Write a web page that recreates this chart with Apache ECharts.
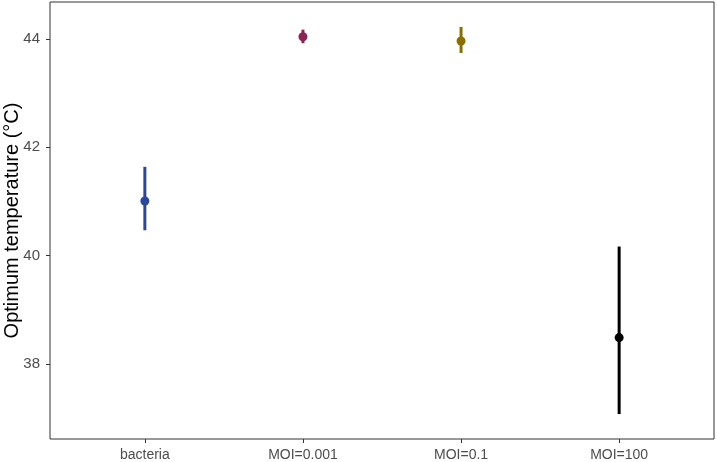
<!DOCTYPE html>
<html><head><meta charset="utf-8">
<script src="https://cdn.jsdelivr.net/npm/echarts@6/dist/echarts.min.js"></script>
<style>html,body{margin:0;padding:0;background:#fff}#c{width:717px;height:462px}</style>
</head><body><div id="c"></div>
<script>
const categories = ['bacteria', 'MOI=0.001', 'MOI=0.1', 'MOI=100'];
const means = [41.01, 44.04, 43.96, 38.49];
const lower = [40.47, 43.92, 43.74, 37.08];
const upper = [41.64, 44.17, 44.22, 40.17];
const yTicks = [38, 40, 42, 44];
const colors = ['#2b479c', '#8a2452', '#8c6d00', '#000000'];

const chart = echarts.init(document.getElementById('c'));
const series = [];
categories.forEach((cat, i) => {
  series.push({
    type: 'custom',
    name: cat + ' err',
    data: [[i + 1, lower[i], upper[i]]],
    renderItem: (params, api) => {
      const p1 = api.coord([api.value(0), api.value(1)]);
      const p2 = api.coord([api.value(0), api.value(2)]);
      return { type: 'line', shape: { x1: p1[0], y1: p1[1], x2: p2[0], y2: p2[1] },
        style: { stroke: colors[i], lineWidth: 3 } };
    },
    silent: true, z: 2
  });
  series.push({
    type: 'scatter', name: cat,
    data: [[i + 1, means[i]]],
    symbol: 'circle', symbolSize: 9,
    itemStyle: { color: colors[i], opacity: 1 },
    silent: true, z: 3
  });
});

chart.setOption({
  animation: false,
  backgroundColor: '#fff',
  grid: { left: 50, right: 3, top: 2, bottom: 23, containLabel: false, outerBoundsMode: 'none',
    show: true, borderColor: '#333333', borderWidth: 1, backgroundColor: 'transparent' },
  xAxis: {
    type: 'value', min: 0.4, max: 4.6,
    axisLine: { show: false },
    splitLine: { show: false },
    axisTick: { show: true, customValues: [1, 2, 3, 4], length: 4, lineStyle: { color: '#333333', width: 1 } },
    axisLabel: { customValues: [1, 2, 3, 4], formatter: v => categories[Math.round(v) - 1] || '',
      color: '#4d4d4d', fontSize: 14, fontFamily: 'Liberation Sans', margin: 9 }
  },
  yAxis: {
    type: 'value', min: 36.62, max: 44.68,
    name: 'Optimum temperature (°C)', nameLocation: 'middle', nameGap: 28, nameMoveOverlap: false,
    nameTextStyle: { color: '#000', fontSize: 20, fontFamily: 'Liberation Sans' },
    axisLine: { show: false },
    splitLine: { show: false },
    axisTick: { show: true, customValues: yTicks, length: 4, lineStyle: { color: '#333333', width: 1 } },
    axisLabel: { customValues: yTicks, color: '#4d4d4d', fontSize: 15, fontFamily: 'Liberation Sans', margin: 10 }
  },
  series: series
});
</script>
</body></html>
